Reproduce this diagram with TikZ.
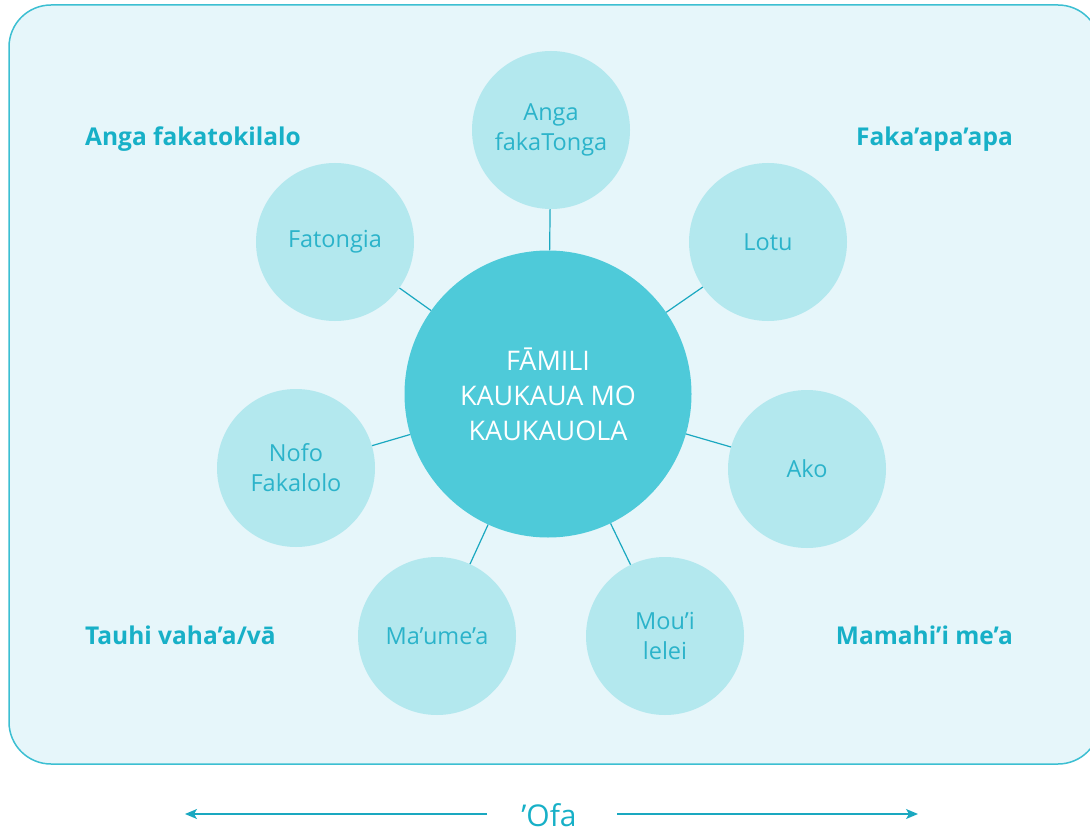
\documentclass[tikz,border=0pt]{standalone}
\usepackage{fontspec}
\setmainfont{Open Sans}
\usetikzlibrary{arrows.meta}
\definecolor{bgfill}{HTML}{E6F6FA}
\definecolor{bgline}{HTML}{3CBFD2}
\definecolor{bigfill}{HTML}{4ECAD9}
\definecolor{smallfill}{HTML}{B3E8EE}
\definecolor{teal}{HTML}{17B0C7}
\definecolor{smalltext}{HTML}{2BB3CA}
\definecolor{conn}{HTML}{1AA8C0}
\tikzset{
  hub/.style={circle, fill=bigfill, minimum size=287pt, inner sep=0pt, text=white, align=center, font=\fontsize{27}{35}\selectfont},
  spoke/.style={circle, fill=smallfill, minimum size=158pt, inner sep=0pt, text=smalltext, align=center, font=\fontsize{23.5}{30}\selectfont},
  corner/.style={text=teal, font=\fontsize{24.5}{28}\selectfont\bfseries, inner sep=0pt},
  link/.style={draw=conn, line width=1.2pt},
}
\begin{document}
\begin{tikzpicture}[x=1pt,y=-1pt]
\useasboundingbox (0,0) rectangle (1090,832);
\begin{scope}
\clip (0,0) rectangle (1090,832);
\draw[bgline, fill=bgfill, line width=1.5pt, rounded corners=42pt] (9,5) rectangle (1100,764);
\end{scope}
\node[hub] (hub) at (548,394) {FĀMILI\\KAUKAUA MO\\KAUKAUOLA};
\node[spoke] (tonga) at (551,130) {Anga\\fakaTonga};
\node[spoke] (lotu) at (768,242) {Lotu};
\node[spoke] (ako) at (807,469) {Ako};
\node[spoke] (moui) at (665,636) {Mou’i\\lelei};
\node[spoke] (maume) at (437,636) {Ma’ume’a};
\node[spoke] (nofo) at (296,468) {Nofo\\Fakalolo};
\node[spoke] (fato) at (335,242) {Fatongia};
\foreach \n in {tonga,lotu,ako,moui,maume,nofo,fato}
  \draw[link] (hub) -- (\n);
\node[corner, anchor=base west] (c1) at (85,146) {Anga fakatokilalo};
\node[corner, anchor=base east] (c2) at (1013,146) {Faka’apa’apa};
\node[corner, anchor=base west] (c3) at (85,644) {Tauhi vaha’a/vā};
\node[corner, anchor=base east] (c4) at (1013,644) {Mamahi’i me’a};
\node[text=teal, font=\fontsize{30}{34}\selectfont, inner sep=0pt, anchor=base] (ofa) at (549,826) {’Ofa};
\coordinate (la) at (185,814);
\coordinate (lb) at (487,814);
\coordinate (ra) at (617,814);
\coordinate (rb) at (918,814);
\draw[conn, line width=1.4pt, -{Stealth[length=12pt,width=10pt,inset=3pt]}] (lb) -- (la);
\draw[conn, line width=1.4pt, -{Stealth[length=12pt,width=10pt,inset=3pt]}] (ra) -- (rb);
\end{tikzpicture}
\end{document}
